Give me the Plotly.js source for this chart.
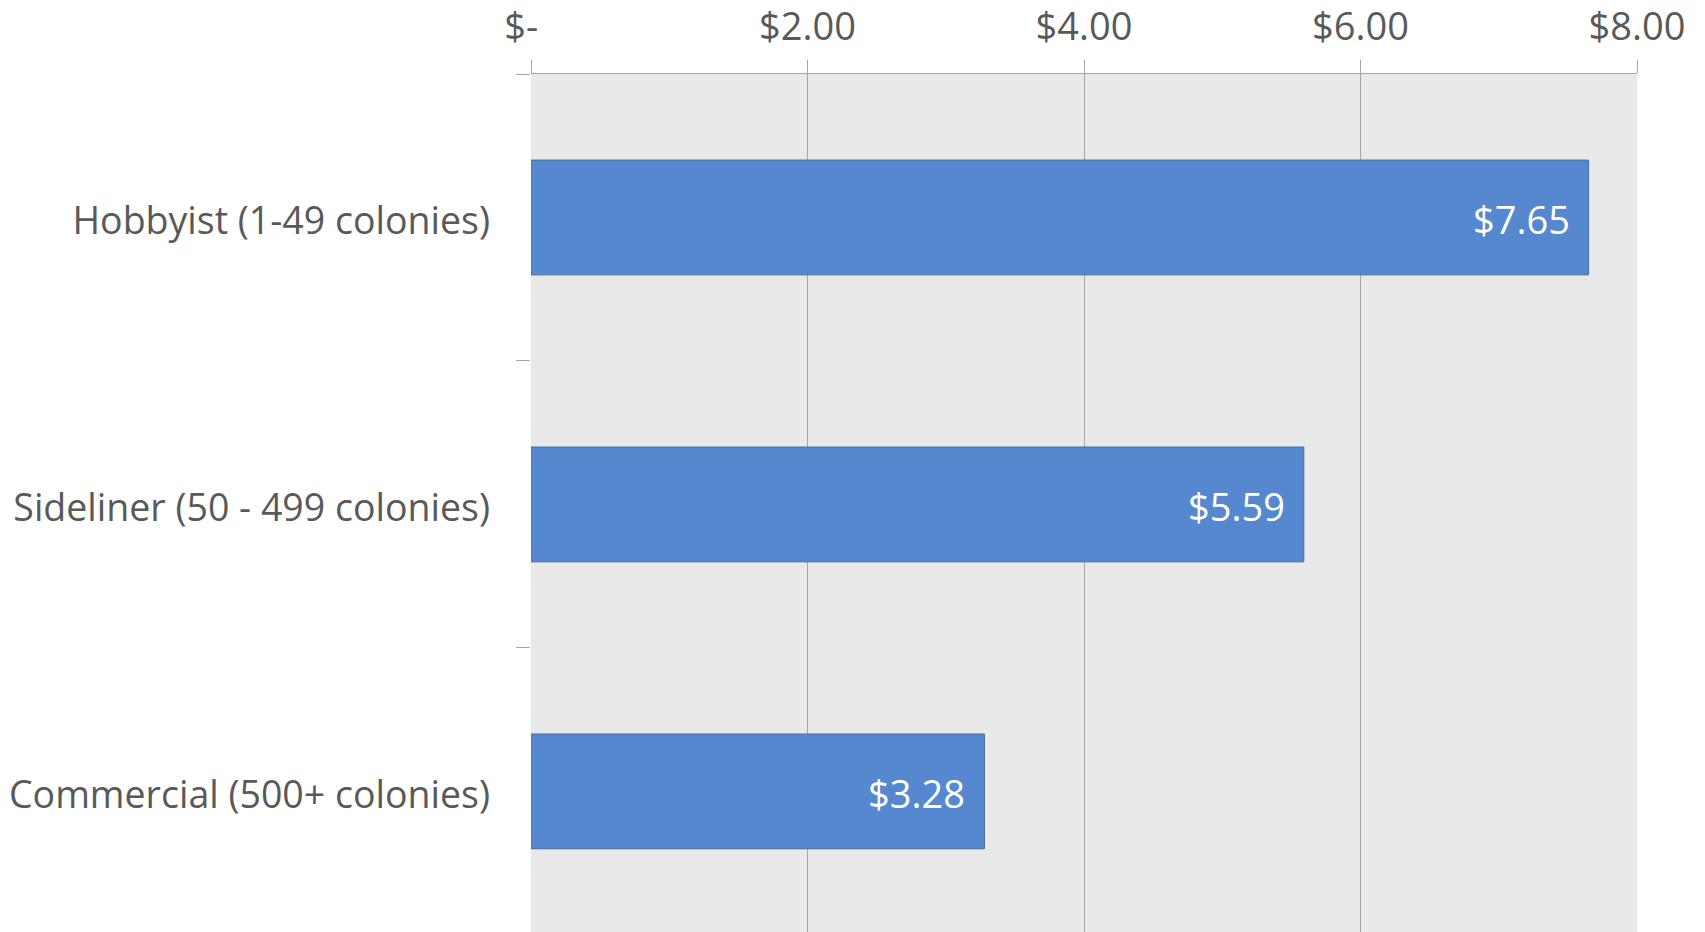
<!DOCTYPE html>
<html>
<head>
<meta charset="utf-8">
<script src="https://cdn.plot.ly/plotly-3.0.1.min.js"></script>
<style>html,body{margin:0;padding:0;background:#fff;}#chart{width:1705px;height:932px;}</style>
</head>
<body>
<div id="chart"></div>
<script>
const categories = ["Hobbyist (1-49 colonies)", "Sideliner (50 - 499 colonies)", "Commercial (500+ colonies)"];
const costs = [7.65, 5.59, 3.28];
const costLabels = ["$7.65", "$5.59", "$3.28"];
const xTickVals = [0, 2, 4, 6, 8];
const xTickText = ["$-\u00a0\u00a0", "$2.00", "$4.00", "$6.00", "$8.00"];

const FONT = "'Open Sans', 'DejaVu Sans', sans-serif";
const GRID = "#a6a6a6";

const trace = {
  type: "bar",
  orientation: "h",
  x: costs,
  y: categories,
  width: 0.4,
  marker: { color: "#5588cf", line: { color: "#41719c", width: 1 } },
  hoverinfo: "skip"
};

const annotations = costs.map((v, i) => ({
  x: v, y: categories[i], xref: "x", yref: "y",
  text: costLabels[i], showarrow: false,
  xanchor: "right", yanchor: "middle", xshift: -17, yshift: -2,
  font: { family: FONT, size: 38, color: "#ffffff" }
}));

const layout = {
  width: 1705, height: 932,
  margin: { l: 531, r: 68, t: 74, b: 0, pad: 0 },
  paper_bgcolor: "#ffffff",
  plot_bgcolor: "#e9e9e9",
  showlegend: false,
  font: { family: FONT, size: 38, color: "#595959" },
  xaxis: {
    side: "top",
    range: [0, 8],
    tickmode: "array",
    tickvals: xTickVals,
    ticktext: xTickText,
    ticks: "outside", ticklen: 13, tickwidth: 1, tickcolor: GRID,
    showgrid: true, gridcolor: GRID, gridwidth: 1,
    showline: true, linecolor: GRID, linewidth: 1,
    zeroline: false,
    ticklabelstandoff: 5,
    tickfont: { family: FONT, size: 38, color: "#595959" },
    fixedrange: true
  },
  yaxis: {
    type: "category",
    categoryorder: "array",
    categoryarray: categories,
    range: [2.49, -0.5],
    ticks: "outside", tickson: "boundaries", ticklen: 14, tickwidth: 1, tickcolor: GRID,
    showgrid: false, showline: false, zeroline: false,
    ticklabelstandoff: 40,
    ticklabelshift: -3,
    tickfont: { family: FONT, size: 37.5, color: "#595959" },
    fixedrange: true
  },
  annotations: annotations
};

Plotly.newPlot("chart", [trace], layout, { displayModeBar: false, staticPlot: true });
</script>
</body>
</html>
